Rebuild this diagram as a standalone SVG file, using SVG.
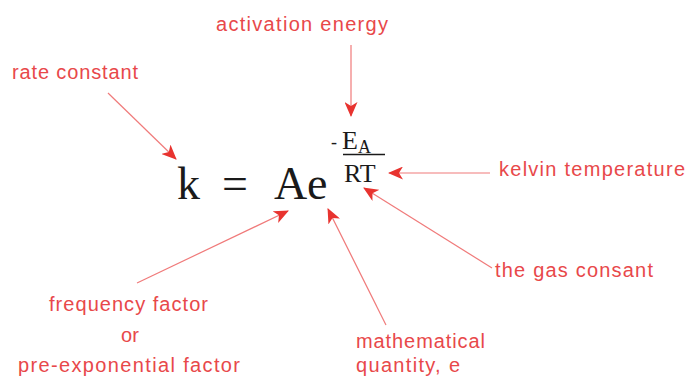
<svg xmlns="http://www.w3.org/2000/svg" width="691" height="378" viewBox="0 0 691 378">
<style>
.lbl{font-family:"Liberation Sans",Arial,sans-serif;font-size:20px;fill:#e8484a;}
.eq{font-family:"Liberation Serif","Times New Roman",serif;fill:#1a1a1a;}
.conn{stroke:#f07a7a;stroke-width:1.2;fill:none;marker-end:url(#ah);}
</style>
<defs>
<marker id="ah" markerUnits="userSpaceOnUse" markerWidth="15" markerHeight="13" viewBox="0 0 15 13" refX="14" refY="6.5" orient="auto">
<path d="M0,0 L15,6.5 L0,13 L4,6.5 Z" fill="#e8332f"/>
</marker>
</defs>
<rect width="691" height="378" fill="#ffffff"/>
<g id="equation">
<text class="eq" x="177" y="199" font-size="46">k</text>
<text class="eq" x="222" y="199" font-size="46">=</text>
<text class="eq" x="274" y="199" font-size="46">A</text>
<text class="eq" x="307" y="199" font-size="46">e</text>
<text class="eq" x="331" y="148" font-size="18">-</text>
<text class="eq" x="342" y="149" font-size="26">E</text>
<text class="eq" x="358" y="153" font-size="18">A</text>
<line x1="343" y1="154.5" x2="385" y2="154.5" stroke="#1a1a1a" stroke-width="1.5"/>
<text class="eq" x="344" y="182" font-size="26">RT</text>
</g>
<g id="connectors">
<line class="conn" x1="108" y1="93" x2="176" y2="159"/>
<line class="conn" x1="351" y1="45" x2="351" y2="116"/>
<line class="conn" x1="490" y1="173" x2="389" y2="173"/>
<line class="conn" x1="492" y1="268" x2="364" y2="188"/>
<line class="conn" x1="137" y1="283" x2="288" y2="211"/>
<line class="conn" x1="386" y1="325" x2="328" y2="209"/>
</g>
<g id="rate-constant"><text class="lbl" x="12" y="79" textLength="126" lengthAdjust="spacing">rate constant</text></g>
<g id="activation-energy"><text class="lbl" x="216" y="31" textLength="172" lengthAdjust="spacing">activation energy</text></g>
<g id="kelvin-temperature"><text class="lbl" x="499" y="176" textLength="186" lengthAdjust="spacing">kelvin temperature</text></g>
<g id="gas-constant"><text class="lbl" x="495" y="277" textLength="158" lengthAdjust="spacing">the gas consant</text></g>
<g id="frequency-factor">
<text class="lbl" x="49" y="311" textLength="159" lengthAdjust="spacing">frequency factor</text>
<text class="lbl" x="130" y="342" text-anchor="middle">or</text>
<text class="lbl" x="18" y="372" textLength="222" lengthAdjust="spacing">pre-exponential factor</text>
</g>
<g id="mathematical-quantity">
<text class="lbl" x="356" y="348" textLength="129" lengthAdjust="spacing">mathematical</text>
<text class="lbl" x="356" y="372" textLength="104" lengthAdjust="spacing">quantity, e</text>
</g>
</svg>
